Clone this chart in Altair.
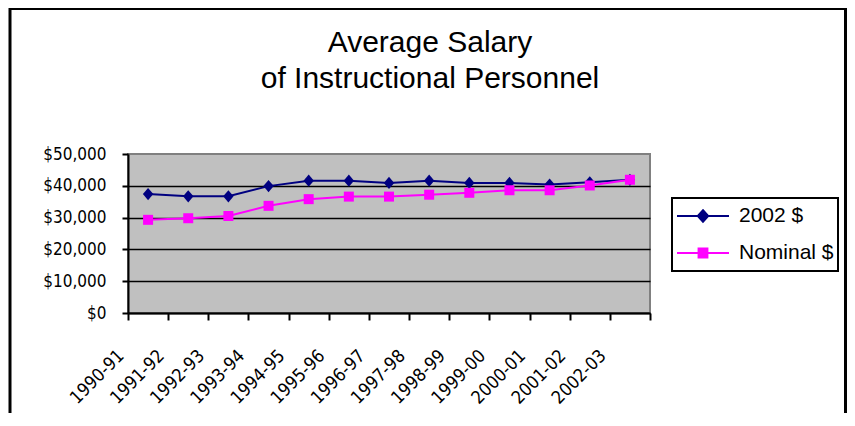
import altair as alt
import pandas as pd

years = ["1990-91", "1991-92", "1992-93", "1993-94", "1994-95", "1995-96", "1996-97",
         "1997-98", "1998-99", "1999-00", "2000-01", "2001-02", "2002-03"]
real_2002 = [37400, 36700, 36700, 39900, 41600, 41600, 40900, 41600, 40900, 40900, 40400, 41100, 41900]
nominal = [29300, 29800, 30500, 33700, 35800, 36600, 36600, 37200, 37800, 38600, 38600, 40100, 41900]
series_names = ["2002 $", "Nominal $"]
series_colors = ["#000080", "#FF00FF"]
y_ticks = [0, 10000, 20000, 30000, 40000, 50000]

df = pd.DataFrame({
    "year": years * 2,
    "salary": real_2002 + nominal,
    "series": [series_names[0]] * len(years) + [series_names[1]] * len(years),
})

NARROW = "Liberation Sans Narrow, DejaVu Sans Condensed, Liberation Sans, sans-serif"
REG = "Liberation Sans, Arial, sans-serif"

diamond_path = "M-0.85,0L0,-1L0.85,0L0,1Z"
leg_diamond = "M-1,0L1,0M0,-0.22L0.2,0L0,0.22L-0.2,0Z"
leg_square = "M-1,0L1,0M-0.17,-0.17L0.17,-0.17L0.17,0.17L-0.17,0.17Z"

xenc = alt.X(
    "year:N", sort=years, bandPosition=0.5,
    scale=alt.Scale(type="band", paddingInner=0, paddingOuter=0),
    axis=alt.Axis(
        title=None, labelAngle=315, labelAlign="right", labelBaseline="middle",
        labelOffset=-27, labelPadding=33, tickBand="extent", grid=False,
        domainColor="black", domainWidth=2, tickColor="black", tickWidth=2, tickSize=7,
        labelFont=NARROW, labelFontSize=18, labelColor="black",
    ),
)
yenc = alt.Y(
    "salary:Q",
    scale=alt.Scale(domain=[0, 50000], nice=False),
    axis=alt.Axis(
        title=None, values=y_ticks, format="$,.0f",
        domainColor="black", domainWidth=2, tickColor="black", tickWidth=2, tickSize=6,
        labelPadding=16, labelFont=NARROW, labelFontSize=17, labelColor="black",
        grid=True, gridColor="black", gridWidth=1.5,
        gridOpacity={"condition": {"test": "datum.value === 50000", "value": 0}, "value": 1},
    ),
)

base = alt.Chart(df)

def series_layers(name, color, shape, size):
    sub = base.transform_filter(alt.datum.series == name)
    line = sub.mark_line(color=color, strokeWidth=2).encode(x=xenc, y=yenc)
    pts = sub.mark_point(filled=True, color=color, shape=shape, size=size, opacity=1,
                         strokeWidth=1).encode(x=xenc, y=yenc)
    return line, pts

l1, p1 = series_layers(series_names[0], series_colors[0], diamond_path, 150)
l2, p2 = series_layers(series_names[1], series_colors[1], "square", 100)

legend = alt.Legend(
    title=None, orient="none", legendX=544, legendY=44, direction="vertical",
    padding=4, strokeColor="black", fillColor="white",
    symbolSize=2704, symbolStrokeWidth=2, symbolOpacity=1, clipHeight=28, rowPadding=9,
    labelFont=REG, labelFontSize=21, labelColor="black", labelOffset=9, labelLimit=0,
)
legend_layer = base.mark_point(filled=True, opacity=0).encode(
    x=xenc, y=yenc,
    fill=alt.Fill("series:N", scale=alt.Scale(domain=series_names, range=series_colors), legend=legend),
    stroke=alt.Stroke("series:N", scale=alt.Scale(domain=series_names, range=series_colors), legend=legend),
    shape=alt.Shape("series:N", scale=alt.Scale(domain=series_names, range=[leg_diamond, leg_square]), legend=legend),
)

frame = alt.Chart(pd.DataFrame({"k": [0]})).mark_rect(
    fill=None, stroke="black", strokeWidth=3, clip=False
).encode(x=alt.value(-118), x2=alt.value(717.5), y=alt.value(-145.5), y2=alt.value(400))

chart = alt.layer(frame, l1, p1, l2, p2, legend_layer).properties(
    width=522, height=159,
    padding={"left": 120, "top": 146, "right": 197, "bottom": 100},
    autosize=alt.AutoSizeParams(type="none"),
    background="white",
    title=alt.TitleParams(
        text=["Average Salary", "of Instructional Personnel"],
        anchor="middle", frame="group", dx=41, offset=-87,
        font=REG, fontSize=30, fontWeight="normal", color="black", lineHeight=36,
    ),
).configure_view(fill="#C0C0C0", stroke="#808080", strokeWidth=2
).configure_legend(strokeWidth=2)

chart.save("out.html", embed_options={"renderer": "svg", "actions": False})
